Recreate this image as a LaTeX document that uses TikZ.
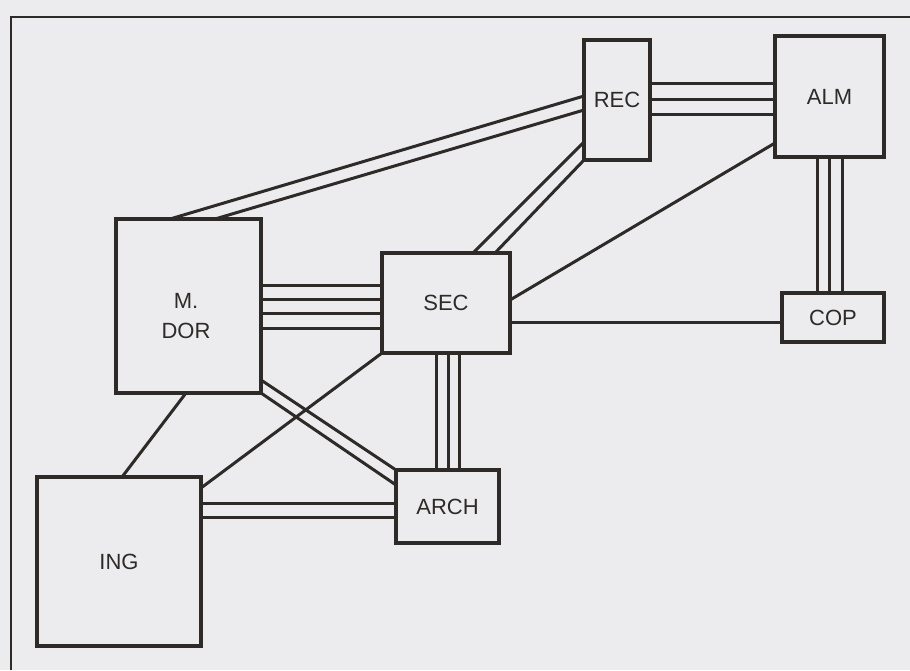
\documentclass[tikz,border=0pt]{standalone}
\usepackage{fontspec}
\setmainfont{Liberation Sans}
\usetikzlibrary{calc}
\definecolor{ink}{RGB}{45,42,40}
\definecolor{paper}{RGB}{236,236,238}
\begin{document}
\begin{tikzpicture}[x=1pt,y=-1pt,
  dept/.style={draw=ink,line width=3.3pt,rectangle,inner sep=0pt,outer sep=0pt,
    fill=paper,font=\fontsize{22}{24}\selectfont,text=ink,align=center},
  link/.style={draw=ink,line width=3pt},
  frameline/.style={draw=ink,line width=2.8pt}]
\fill[paper] (0,0) rectangle (910,670);
\useasboundingbox (0,0) rectangle (910,670);
% frame
\coordinate (fl) at (11,670);
\coordinate (fc) at (11,17);
\coordinate (fr) at (910,17);
\draw[frameline] (fl) -- (fc) -- (fr);
% departments
\node[dept,minimum width=66pt,minimum height=120pt] (rec) at (617,100) {REC};
\node[dept,minimum width=109pt,minimum height=121pt] (alm) at (829.5,96.5) {ALM};
\node[dept,minimum width=102pt,minimum height=49pt] (cop) at (833,317.5) {COP};
\node[dept,minimum width=145pt,minimum height=174pt] (mdor) at (188.5,306) {};
\node[font=\fontsize{22}{30}\selectfont,text=ink,align=center] (mdorlabel) at (186,316) {M.\\DOR};
\node[dept,minimum width=128pt,minimum height=100pt] (sec) at (446,303) {SEC};
\node[dept,minimum width=164pt,minimum height=169pt] (ing) at (119,561.5) {ING};
\node[dept,minimum width=103pt,minimum height=73pt] (arch) at (447.5,506.5) {ARCH};
% M.DOR -- REC
\draw[link] ($(mdor.north west)+(54,0)$) -- ($(rec.north west)+(0,56)$);
\draw[link] ($(mdor.north west)+(99,0)$) -- ($(rec.north west)+(0,70)$);
% REC -- ALM
\foreach \a/\b in {43/47,59/63,74/78}
  \draw[link] ($(rec.north east)+(0,\a)$) -- ($(alm.north west)+(0,\b)$);
% SEC -- REC
\draw[link] ($(sec.north west)+(91,0)$) -- ($(rec.north west)+(0,102)$);
\draw[link] ($(sec.north west)+(113,0)$) -- (rec.south west);
% ALM -- SEC
\draw[link] ($(alm.north west)+(0,107)$) -- ($(sec.north east)+(0,47)$);
% SEC -- COP
\draw[link] ($(sec.north east)+(0,69)$) -- ($(cop.north west)+(0,29)$);
% ALM -- COP
\foreach \a/\b in {42/35,54/47,67/60}
  \draw[link] ($(alm.south west)+(\a,0)$) -- ($(cop.north west)+(\b,0)$);
% M.DOR -- SEC
\foreach \a/\b in {66/32,80/46,94/60,109/75}
  \draw[link] ($(mdor.north east)+(0,\a)$) -- ($(sec.north west)+(0,\b)$);
% SEC -- ARCH
\foreach \a/\b in {54/40,66/52,77/63}
  \draw[link] ($(sec.south west)+(\a,0)$) -- ($(arch.north west)+(\b,0)$);
% SEC -- ING
\draw[link] (sec.south west) -- ($(ing.north east)+(0,11)$);
% M.DOR -- ARCH
\draw[link] ($(mdor.north east)+(0,161)$) -- (arch.north west);
\draw[link] (mdor.south east) -- ($(arch.north west)+(0,15)$);
% M.DOR -- ING
\draw[link] ($(mdor.south west)+(70,0)$) -- ($(ing.north west)+(85,0)$);
% ING -- ARCH
\foreach \a/\b in {26/33,40/47}
  \draw[link] ($(ing.north east)+(0,\a)$) -- ($(arch.north west)+(0,\b)$);
\end{tikzpicture}
\end{document}
